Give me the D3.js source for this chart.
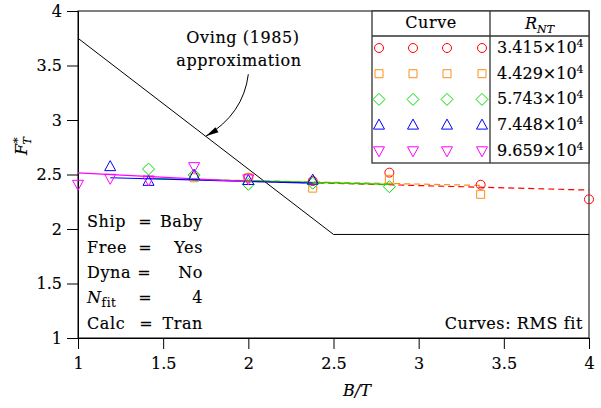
<!DOCTYPE html>
<html>
<head>
<meta charset="utf-8">
<script src="https://cdn.jsdelivr.net/npm/d3@7"></script>
<style>
  html, body { margin: 0; padding: 0; background: #fff; }
  svg { display: block; }
  text { font-family: "DejaVu Serif", serif; fill: #000; stroke: #000; stroke-width: 0.15px; }
  .lbl { letter-spacing: 0.6px; }
</style>
</head>
<body>
<svg id="chart" width="601" height="408"></svg>
<script>
// B/T stations (2^(k/4) progression)
const btValues = [1, 1.189, 1.414, 1.682, 2, 2.378, 2.828, 3.364, 4];

// Reynolds numbers per curve
const reLabels = ["3.415", "4.429", "5.743", "7.448", "9.659"];
const curveColors = ["#ff0000", "#ff8c1a", "#00dd00", "#0000ff", "#ff00ff"];
const curveSymbols = ["circle", "square", "diamond", "triangle", "invtriangle"];
const curveDashed = [true, true, false, false, false];

// Measured F_T* values: [B/T, value]
const serie1 = [[2, 2.47], [2.378, 2.44], [2.828, 2.517], [3.364, 2.406], [4, 2.272]];
const serie2 = [[1.682, 2.47], [2, 2.47], [2.378, 2.375], [2.828, 2.456], [3.364, 2.318]];
const serie3 = [[1.414, 2.55], [1.682, 2.495], [2, 2.41], [2.378, 2.42], [2.828, 2.388]];
const serie4 = [[1.189, 2.572], [1.414, 2.437], [1.682, 2.49], [2, 2.445], [2.378, 2.448]];
const serie5 = [[1, 2.41], [1.189, 2.465], [1.414, 2.45], [1.682, 2.572], [2, 2.46]];
const series = [serie1, serie2, serie3, serie4, serie5];

// RMS fit curves: [start, end] as [B/T, value]
const fit1 = [[2, 2.44], [4, 2.357]];
const fit2 = [[1.682, 2.455], [3.364, 2.40]];
const fit3 = [[1.414, 2.465], [2.828, 2.41]];
const fit4 = [[1.189, 2.47], [2.378, 2.42]];
const fit5 = [[1, 2.515], [2, 2.435]];
const fits = [fit1, fit2, fit3, fit4, fit5];

// Oving (1985) approximation
const ovingX = [1, 2.5, 4];
const ovingY = [3.75, 1.95, 1.95];

// Axis ticks
const xTicks = [1, 1.5, 2, 2.5, 3, 3.5, 4];
const yTicks = [1, 1.5, 2, 2.5, 3, 3.5, 4];

// Run parameters
const infoKeys = ["Ship", "Free", "Dyna", "N", "Calc"];
const infoVals = ["Baby", "Yes", "No", "4", "Tran"];

const svg = d3.select("#chart");
const x = d3.scaleLinear().domain([1, 4]).range([78, 589]);
const y = d3.scaleLinear().domain([1, 4]).range([338, 11]);
const FS = 16;

// frame
svg.append("rect")
  .attr("x", x(1)).attr("y", y(4))
  .attr("width", x(4) - x(1)).attr("height", y(1) - y(4))
  .attr("fill", "none").attr("stroke", "#000").attr("stroke-width", 1);

// axes
const xAxis = svg.append("g").attr("transform", `translate(0,${y(1)})`)
  .call(d3.axisBottom(x).tickValues(xTicks).tickSize(11).tickPadding(9).tickFormat(d3.format("")));
const yAxis = svg.append("g").attr("transform", `translate(${x(1)},0)`)
  .call(d3.axisLeft(y).tickValues(yTicks).tickSize(11).tickPadding(5).tickFormat(d3.format("")));
[xAxis, yAxis].forEach(g => {
  g.selectAll("text").style("font-family", "DejaVu Serif").style("font-size", FS + "px").attr("fill", "#000");
  g.selectAll("line").attr("stroke", "#000");
  g.select(".domain").attr("stroke", "#000");
});

// axis titles
svg.append("text")
  .attr("x", 357).attr("y", 396)
  .attr("text-anchor", "middle").style("font-size", FS + "px").style("font-style", "italic")
  .text("B/T");

const yl = svg.append("text")
  .attr("transform", "translate(27,146) rotate(-90)")
  .attr("text-anchor", "middle").style("font-size", FS + "px");
yl.append("tspan").style("font-style", "italic").text("F");
yl.append("tspan").attr("dy", -6).attr("dx", 1).style("font-size", "11px").text("*");
yl.append("tspan").attr("dy", 10).attr("dx", -7).style("font-size", "11px").style("font-style", "italic").text("T");

// Oving approximation line
const line = d3.line().x(d => x(d[0])).y(d => y(d[1]));
svg.append("path")
  .datum(ovingX.map((v, i) => [v, ovingY[i]]))
  .attr("d", line).attr("fill", "none").attr("stroke", "#000").attr("stroke-width", 1);

// fit curves
fits.forEach((f, i) => {
  svg.append("path").datum(f).attr("d", line)
    .attr("fill", "none").attr("stroke", curveColors[i]).attr("stroke-width", 1.2)
    .attr("stroke-dasharray", curveDashed[i] ? "6,4" : null);
});

// symbol drawing
function symbolPath(kind, cx, cy) {
  const p = d3.path();
  if (kind === "circle") {
    p.moveTo(cx + 4.5, cy); p.arc(cx, cy, 4.5, 0, 2 * Math.PI);
  } else if (kind === "square") {
    p.rect(cx - 4, cy - 4, 8, 8);
  } else if (kind === "diamond") {
    p.moveTo(cx, cy - 6); p.lineTo(cx + 6, cy); p.lineTo(cx, cy + 6); p.lineTo(cx - 6, cy); p.closePath();
  } else if (kind === "triangle") {
    p.moveTo(cx, cy - 6); p.lineTo(cx + 5.5, cy + 4); p.lineTo(cx - 5.5, cy + 4); p.closePath();
  } else {
    p.moveTo(cx, cy + 6); p.lineTo(cx + 5.5, cy - 4); p.lineTo(cx - 5.5, cy - 4); p.closePath();
  }
  return p.toString();
}

series.forEach((s, i) => {
  svg.append("g").selectAll("path").data(s).join("path")
    .attr("d", d => symbolPath(curveSymbols[i], x(d[0]), y(d[1])))
    .attr("fill", "none").attr("stroke", curveColors[i]).attr("stroke-width", 1);
});

// annotation with curved arrow
const tip = [1.75, 3.75 - 1.2 * 0.75];
const tail = [2.0, 3.42];
const tx = x(tip[0]), ty = y(tip[1]), sx = x(tail[0]), sy = y(tail[1]);
const c1x = sx - 5, c1y = sy + 40;
svg.append("path")
  .attr("d", `M${sx},${sy} Q${c1x},${c1y} ${tx},${ty}`)
  .attr("fill", "none").attr("stroke", "#000").attr("stroke-width", 1);
{
  const ang = Math.atan2(ty - c1y, tx - c1x);
  const L = 13, W = 3;
  const bx = tx - L * Math.cos(ang), by = ty - L * Math.sin(ang);
  const nx = -Math.sin(ang) * W, ny = Math.cos(ang) * W;
  svg.append("path")
    .attr("d", `M${tx},${ty} L${bx + nx},${by + ny} L${bx - nx},${by - ny} Z`)
    .attr("fill", "#000");
}
svg.append("text").attr("class", "lbl").attr("x", 243).attr("y", 43).attr("text-anchor", "middle")
  .style("font-size", FS + "px").text("Oving (1985)");
svg.append("text").attr("class", "lbl").attr("x", 239).attr("y", 66).attr("text-anchor", "middle")
  .style("font-size", FS + "px").text("approximation");

// legend table
const lg = svg.append("g");
const lx0 = 372, lx1 = 490, lx2 = x(4), ly0 = y(4), ly1 = 36, ly2 = 163;
lg.append("rect").attr("x", lx0).attr("y", ly0).attr("width", lx2 - lx0).attr("height", ly2 - ly0)
  .attr("fill", "#fff").attr("stroke", "#333").attr("stroke-width", 1.3);
lg.append("line").attr("x1", lx0).attr("x2", lx2).attr("y1", ly1).attr("y2", ly1).attr("stroke", "#333").attr("stroke-width", 1.3);
lg.append("line").attr("x1", lx1).attr("x2", lx1).attr("y1", ly0).attr("y2", ly2).attr("stroke", "#333").attr("stroke-width", 1.3);
lg.append("text").attr("class", "lbl").attr("x", (lx0 + lx1) / 2).attr("y", 28).attr("text-anchor", "middle")
  .style("font-size", FS + "px").text("Curve");
const rh = lg.append("text").attr("x", (lx1 + lx2) / 2).attr("y", 29).attr("text-anchor", "middle")
  .style("font-size", FS + "px").style("font-style", "italic");
rh.append("tspan").text("R");
rh.append("tspan").attr("dy", 4).style("font-size", "11px").text("NT");

const symCols = [379, 413, 447, 482];
reLabels.forEach((r, i) => {
  const cy = 48 + i * 25.7;
  symCols.forEach(cx => {
    lg.append("path").attr("d", symbolPath(curveSymbols[i], cx, cy))
      .attr("fill", "none").attr("stroke", curveColors[i]).attr("stroke-width", 1);
  });
  const t = lg.append("text").attr("x", 497).attr("y", cy + 5).style("font-size", FS + "px");
  t.append("tspan").text(r + "\u00d710");
  t.append("tspan").attr("dy", -6).style("font-size", "11px").text("4");
});

// run parameters
const rowsY = [227, 253, 278, 303, 329];
const eqX = [145, 145, 144, 145, 146];
infoKeys.forEach((k, i) => {
  const t = svg.append("text").attr("class", "lbl").attr("x", 87).attr("y", rowsY[i]).style("font-size", FS + "px");
  if (k === "N") {
    t.append("tspan").style("font-style", "italic").text("N");
    t.append("tspan").attr("dy", 4).style("font-size", "12px").text("fit");
  } else {
    t.text(k);
  }
  svg.append("text").attr("x", eqX[i]).attr("y", rowsY[i]).attr("text-anchor", "middle")
    .style("font-size", FS + "px").text("=");
  svg.append("text").attr("class", "lbl").attr("x", 203).attr("y", rowsY[i]).attr("text-anchor", "end")
    .style("font-size", FS + "px").text(infoVals[i]);
});
svg.append("text").attr("class", "lbl").attr("x", 583).attr("y", 329).attr("text-anchor", "end")
  .style("font-size", FS + "px").text("Curves: RMS fit");
</script>
</body>
</html>
